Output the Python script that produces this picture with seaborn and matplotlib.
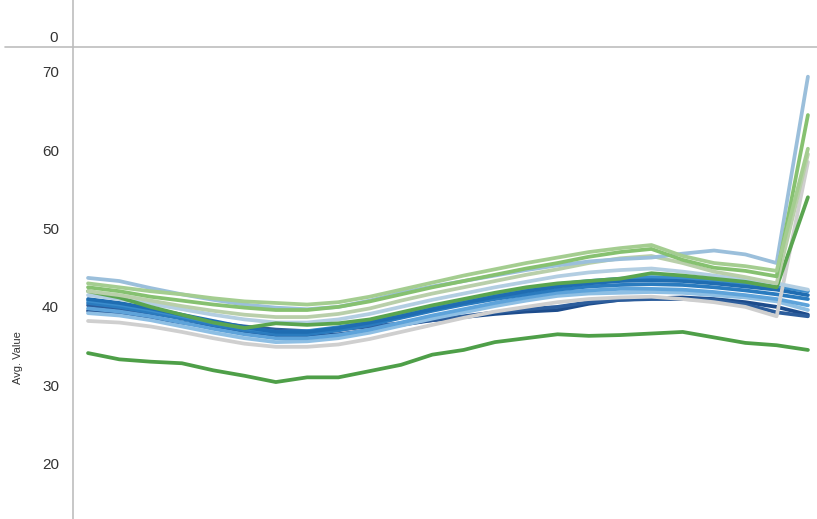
import numpy as np
import pandas as pd
import seaborn as sns
import matplotlib.pyplot as plt
from matplotlib.lines import Line2D

# 24 periods, one value per line
periods = list(range(24))

low_green = [34.1, 33.3, 33.0, 32.8, 31.9, 31.2, 30.4, 31.0, 31.0, 31.8, 32.6, 33.9,
             34.5, 35.5, 36.0, 36.5, 36.3, 36.4, 36.6, 36.8, 36.1, 35.4, 35.1, 34.5]
blue_a = [41.0, 40.5, 39.8, 39.0, 38.2, 37.4, 36.8, 36.8, 37.3, 38.0, 38.8, 39.7,
          40.5, 41.3, 42.0, 42.6, 43.0, 43.3, 43.4, 43.3, 43.0, 42.6, 42.2, 41.5]
blue_b = [40.5, 40.0, 39.3, 38.5, 37.7, 37.0, 36.5, 36.5, 37.0, 37.7, 38.6, 39.5,
          40.3, 41.0, 41.6, 42.2, 42.6, 42.8, 42.9, 42.8, 42.5, 42.1, 41.6, 41.0]
blue_c = [40.8, 40.3, 39.6, 38.8, 38.0, 37.3, 36.8, 36.9, 37.4, 38.1, 39.0, 39.9,
          40.7, 41.5, 42.2, 42.9, 43.3, 43.6, 43.8, 43.7, 43.4, 43.0, 42.6, 42.0]
sky_a = [39.8, 39.4, 38.8, 38.0, 37.2, 36.5, 36.0, 36.0, 36.4, 37.1, 38.0, 38.9,
         39.7, 40.5, 41.2, 41.8, 42.1, 42.3, 42.3, 42.2, 41.9, 41.5, 41.0, 40.2]
sky_b = [39.2, 38.9, 38.3, 37.5, 36.7, 36.0, 35.5, 35.6, 36.0, 36.7, 37.6, 38.5,
         39.3, 40.1, 40.8, 41.4, 41.7, 41.8, 41.9, 41.8, 41.5, 41.2, 40.7, 39.6]
navy_a = [40.2, 39.8, 39.2, 38.6, 38.0, 37.5, 37.1, 36.9, 37.1, 37.5, 37.9, 38.3,
          38.8, 39.3, 39.7, 40.0, 40.6, 40.9, 41.0, 41.0, 40.9, 40.3, 39.3, 38.8]
navy_b = [39.5, 39.1, 38.6, 38.0, 37.4, 36.8, 36.3, 36.2, 36.5, 37.0, 37.7, 38.3,
          38.7, 39.1, 39.4, 39.6, 40.4, 40.9, 41.1, 41.2, 41.0, 40.6, 40.0, 39.0]
pale_blue = [41.5, 41.0, 40.4, 39.7, 39.0, 38.4, 38.0, 38.0, 38.4, 39.1, 40.0, 40.9,
             41.7, 42.5, 43.2, 43.9, 44.4, 44.7, 44.9, 44.5, 44.0, 43.5, 43.0, 42.2]
light_gray = [38.2, 38.0, 37.5, 36.8, 36.0, 35.3, 34.9, 34.9, 35.2, 35.9, 36.8, 37.7,
              38.6, 39.4, 40.0, 40.6, 41.0, 41.2, 41.3, 41.0, 40.6, 40.0, 38.8, 58.5]
mid_green = [42.0, 41.2, 40.0, 39.0, 38.0, 37.3, 37.9, 37.7, 37.9, 38.4, 39.3, 40.2,
             41.0, 41.8, 42.5, 43.0, 43.3, 43.6, 44.3, 44.0, 43.6, 43.2, 42.5, 54.0]
sage = [42.0, 41.5, 40.8, 40.1, 39.5, 39.0, 38.7, 38.7, 39.1, 39.8, 40.8, 41.7,
        42.5, 43.3, 44.1, 44.8, 45.6, 46.2, 46.5, 45.6, 44.5, 43.8, 43.0, 59.5]
green_b = [42.5, 42.0, 41.3, 40.8, 40.3, 39.9, 39.6, 39.6, 40.0, 40.7, 41.6, 42.5,
           43.3, 44.1, 44.9, 45.6, 46.4, 47.0, 47.4, 46.0, 45.0, 44.6, 43.9, 64.5]
green_a = [43.0, 42.5, 42.0, 41.6, 41.1, 40.7, 40.5, 40.3, 40.6, 41.3, 42.2, 43.1,
           44.0, 44.8, 45.6, 46.3, 47.0, 47.5, 47.9, 46.5, 45.6, 45.2, 44.6, 60.2]
steel = [43.7, 43.3, 42.4, 41.6, 40.9, 40.3, 39.9, 39.7, 40.0, 40.8, 41.8, 42.6,
         43.3, 44.0, 44.7, 45.3, 45.8, 46.1, 46.3, 46.8, 47.2, 46.7, 45.6, 69.4]

series = {
    "low_green": low_green, "navy_b": navy_b, "navy_a": navy_a,
    "sky_b": sky_b, "sky_a": sky_a, "blue_b": blue_b, "blue_c": blue_c,
    "blue_a": blue_a, "light_gray": light_gray, "pale_blue": pale_blue,
    "mid_green": mid_green, "sage": sage, "steel": steel,
    "green_b": green_b, "green_a": green_a,
}
colors = {
    "low_green": "#4e9f48", "navy_b": "#1d4c8c", "navy_a": "#2c5d9c",
    "sky_b": "#8ebfe4", "sky_a": "#5ea3da", "blue_b": "#2a7bbf", "blue_c": "#3a8ccc",
    "blue_a": "#1f6db2", "light_gray": "#cfcfcf", "pale_blue": "#b3cee2",
    "mid_green": "#5aa550", "sage": "#b9cfaa", "steel": "#9bbfdb",
    "green_b": "#86c170", "green_a": "#a4cd90",
}

rows = []
for name, vals in series.items():
    for p, v in zip(periods, vals):
        rows.append((name, p, v))
df = pd.DataFrame(rows, columns=["series", "period", "value"])

sns.set_style("white")
plt.rcParams["font.family"] = ["Liberation Sans", "DejaVu Sans"]

fig = plt.figure(figsize=(8.17, 5.19), dpi=100)
W, H = 817, 519
left = 73 / W
split = 1 - 47 / H

ax = fig.add_axes([left, 0, 1 - left, split])
top = fig.add_axes([left, split, 1 - left, 1 - split])

sns.lineplot(data=df, x="period", y="value", hue="series", palette=colors,
             hue_order=list(series.keys()), estimator=None, linewidth=2.7,
             legend=False, ax=ax)

ax.set_xlim(-0.48, 23.29)
ax.set_ylim(12.91, 73.19)
ax.set_yticks([20, 30, 40, 50, 60, 70])
ax.set_xticks([])
ax.set_xlabel("")
ax.set_ylabel("Avg. Value", fontsize=8, color="#333333")
ax.yaxis.set_label_coords(-50 / 744, 0.341)
ax.tick_params(axis="y", length=6, width=1, color="#bdbdbd", labelsize=11,
               labelcolor="#333333", pad=4)
for s in ["top", "right", "bottom"]:
    ax.spines[s].set_visible(False)
ax.spines["left"].set_color("#bdbdbd")
ax.spines["left"].set_linewidth(1.2)

top.set_xlim(-0.48, 23.29)
top.set_ylim(-11, 36)
top.set_yticks([0])
top.set_xticks([])
top.tick_params(axis="y", length=0, labelsize=11, labelcolor="#333333", pad=11)
for s in ["top", "right"]:
    top.spines[s].set_visible(False)
top.spines["left"].set_color("#bdbdbd")
top.spines["left"].set_linewidth(1.2)
top.spines["bottom"].set_color("#bdbdbd")
top.spines["bottom"].set_linewidth(1.2)

fig.add_artist(Line2D([5 / W, left], [split, split], color="#bdbdbd", lw=1.2))

fig.savefig("out.png", dpi=100)
